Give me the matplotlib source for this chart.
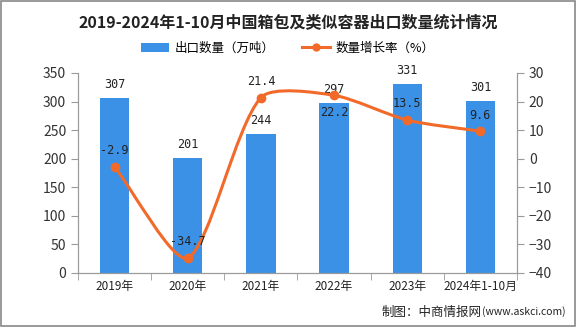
import matplotlib
matplotlib.use("Agg")
import matplotlib.pyplot as plt
from matplotlib.path import Path
from matplotlib.patches import PathPatch, Rectangle
import numpy as np

plt.rcParams['font.family'] = ['Noto Sans CJK SC', 'DejaVu Sans']

categories = ["2019年", "2020年", "2021年", "2022年", "2023年", "2024年1-10月"]
export_volume = [307, 201, 244, 297, 331, 301]
growth_rate = [-2.9, -34.7, 21.4, 22.2, 13.5, 9.6]

bar_color = "#3b91e6"
line_color = "#f26a2a"
axis_color = "#9a9a9a"
SMOOTH = 0.25

fig = plt.figure(figsize=(5.76, 3.27), dpi=100)
ax = fig.add_axes([78 / 576, 1 - 273 / 327, (517 - 78) / 576, (273 - 73) / 327])
ax2 = ax.twinx()

x = np.arange(len(categories))
ax.bar(x, export_volume, width=0.4, color=bar_color, zorder=2, label="出口数量（万吨）")
ax.set_xlim(-0.5, len(categories) - 0.5)
ax.set_ylim(0, 350)
ax.set_yticks(range(0, 351, 50))
for xi, v in zip(x, export_volume):
    ax.annotate(f"{v}", (xi, v), xytext=(0, 5), textcoords="offset points",
                ha="center", va="bottom", fontsize=8.5, color="#222222",
                family=['DejaVu Sans Mono'])

ax2.set_ylim(-40, 30)
ax2.set_yticks(range(-40, 31, 10))

# smooth curve through the growth points, control points weighted by segment length
pix = ax2.transData.transform(np.column_stack([x, growth_rate]).astype(float))
n = len(pix)
cp_in, cp_out = [None] * n, [None] * n
for i in range(n):
    prev = pix[i - 1] if i > 0 else pix[i]
    nxt = pix[i + 1] if i < n - 1 else pix[i]
    d0 = np.hypot(*(pix[i] - prev))
    d1 = np.hypot(*(nxt - pix[i]))
    v = (nxt - prev) * SMOOTH
    tot = d0 + d1 if d0 + d1 > 0 else 1.0
    cp_in[i] = pix[i] - v * d0 / tot
    cp_out[i] = pix[i] + v * d1 / tot
verts = [pix[0]]
codes = [Path.MOVETO]
for i in range(n - 1):
    verts += [cp_out[i], cp_in[i + 1], pix[i + 1]]
    codes += [Path.CURVE4] * 3
verts = ax2.transData.inverted().transform(np.array(verts))
ax2.add_patch(PathPatch(Path(verts, codes), facecolor="none", edgecolor=line_color,
                        lw=2.2, zorder=3))
ax2.plot(x, growth_rate, "o", color=line_color, ms=6, zorder=4)
ax2.plot([], [], "-o", color=line_color, lw=2.2, ms=5, label="数量增长率（%）")
for xi, v in zip(x, growth_rate):
    below = v == 22.2
    ax2.annotate(f"{v}", (xi, v), xytext=(0, -8 if below else 7),
                 textcoords="offset points", ha="center",
                 va="top" if below else "bottom", fontsize=8.5, color="#222222",
                 family=['DejaVu Sans Mono'])

ax.set_xticks(x)
ax.set_xticklabels(categories)
ax.tick_params(axis="x", length=0, pad=5, labelsize=8.5, colors="#222222")
ax.set_xticks(np.arange(-0.5, len(categories), 1.0), minor=True)
ax.tick_params(axis="x", which="minor", length=5, color=axis_color)
ax.tick_params(axis="y", length=5, color=axis_color, labelsize=10, labelcolor="#333333")
ax2.tick_params(axis="y", length=5, color=axis_color, labelsize=10, labelcolor="#333333")

for a in (ax, ax2):
    a.spines["top"].set_visible(False)
    for s in ("left", "right", "bottom"):
        a.spines[s].set_color(axis_color)
ax.patch.set_visible(False)

fig.text(0.5, 1 - 22 / 327, "2019-2024年1-10月中国箱包及类似容器出口数量统计情况",
         ha="center", va="center", fontsize=11.5, fontweight="bold", color="#222222")

h1, l1 = ax.get_legend_handles_labels()
h2, l2 = ax2.get_legend_handles_labels()
fig.legend(h1 + h2, l1 + l2, loc="center", bbox_to_anchor=(0.5, 1 - 48 / 327),
           ncol=2, frameon=False, fontsize=9, handlelength=2.2, columnspacing=2.2,
           handletextpad=0.5)

fig.text(482 / 576, 1 - 312 / 327, "制图：中商情报网",
         ha="right", va="center", fontsize=9, color="#222222")
fig.text(482 / 576, 1 - 312 / 327, "(www.askci.com)",
         ha="left", va="center", fontsize=7.5, color="#222222")

fig.patches.append(Rectangle((0.002, 0.003), 0.996, 0.994, transform=fig.transFigure,
                             fill=False, edgecolor="#888888", lw=1.2))

fig.savefig("out.png", dpi=100)
